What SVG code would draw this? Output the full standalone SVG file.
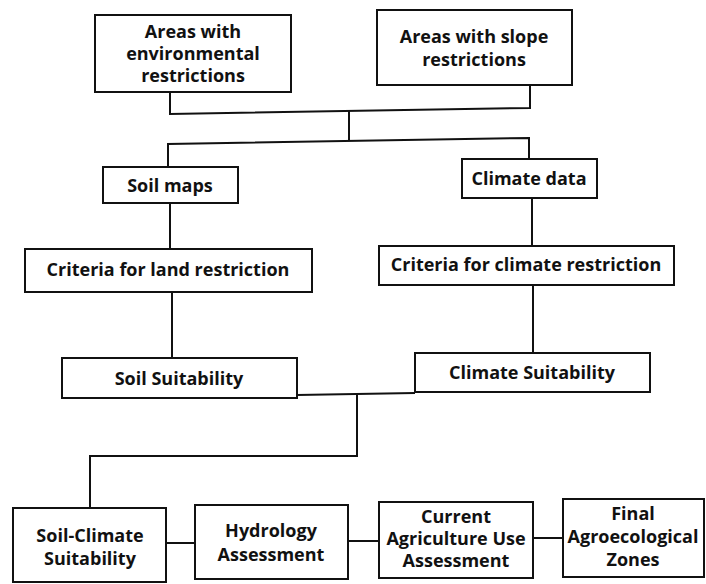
<svg xmlns="http://www.w3.org/2000/svg" width="706" height="584" viewBox="0 0 706 584">
<style>
.box{fill:#fff;stroke:#111;stroke-width:2}
.t{font-family:"Open Sans","Noto Sans","Liberation Sans",sans-serif;font-weight:700;font-size:18px;fill:#111;text-anchor:middle}
.c{fill:none;stroke:#111;stroke-width:2}
</style>
<rect width="706" height="584" fill="#fff"/>
<g id="connectors">
<polyline class="c" points="170,92 170,114 530,108 530,85"/>
<line class="c" x1="349" y1="111" x2="349" y2="141"/>
<polyline class="c" points="168,167 168,144 529,138 529,159"/>
<line class="c" x1="170" y1="203" x2="170" y2="249"/>
<line class="c" x1="532" y1="198" x2="532" y2="246"/>
<line class="c" x1="172" y1="292" x2="172" y2="358"/>
<line class="c" x1="533" y1="285" x2="533" y2="353"/>
<line class="c" x1="297" y1="395" x2="415" y2="393"/>
<polyline class="c" points="357,394 357,456 90,456 90,508"/>
<line class="c" x1="166" y1="543" x2="195" y2="543"/>
<line class="c" x1="348" y1="541" x2="379" y2="541"/>
<line class="c" x1="533" y1="538" x2="563" y2="538"/>
</g>
<g id="env"><rect class="box" x="95" y="15" width="196" height="77"/>
<text class="t" x="193" y="38">Areas with</text><text class="t" x="193" y="60">environmental</text><text class="t" x="193" y="82">restrictions</text></g>
<g id="slope"><rect class="box" x="377" y="10" width="195" height="75"/>
<text class="t" x="474" y="43">Areas with slope</text><text class="t" x="474" y="66">restrictions</text></g>
<g id="soilmaps"><rect class="box" x="103" y="167" width="135" height="36"/>
<text class="t" x="170" y="192">Soil maps</text></g>
<g id="climatedata"><rect class="box" x="462" y="159" width="135" height="39"/>
<text class="t" x="529" y="185">Climate data</text></g>
<g id="landcrit"><rect class="box" x="25" y="249" width="287" height="43"/>
<text class="t" x="168" y="276">Criteria for land restriction</text></g>
<g id="climcrit"><rect class="box" x="379" y="246" width="295" height="39"/>
<text class="t" x="526" y="271">Criteria for climate restriction</text></g>
<g id="soilsuit"><rect class="box" x="62" y="358" width="235" height="40"/>
<text class="t" x="179" y="385">Soil Suitability</text></g>
<g id="climsuit"><rect class="box" x="415" y="353" width="235" height="39"/>
<text class="t" x="532" y="379">Climate Suitability</text></g>
<g id="soilclim"><rect class="box" x="13" y="508" width="153" height="74"/>
<text class="t" x="90" y="542">Soil-Climate</text><text class="t" x="90" y="565">Suitability</text></g>
<g id="hydro"><rect class="box" x="195" y="505" width="153" height="74"/>
<text class="t" x="271" y="537">Hydrology</text><text class="t" x="271" y="561">Assessment</text></g>
<g id="agri"><rect class="box" x="379" y="502" width="154" height="76"/>
<text class="t" x="456" y="523">Current</text><text class="t" x="456" y="545">Agriculture Use</text><text class="t" x="456" y="567">Assessment</text></g>
<g id="final"><rect class="box" x="563" y="499" width="141" height="78"/>
<text class="t" x="633" y="520">Final</text><text class="t" x="633" y="543">Agroecological</text><text class="t" x="633" y="566">Zones</text></g>
</svg>
